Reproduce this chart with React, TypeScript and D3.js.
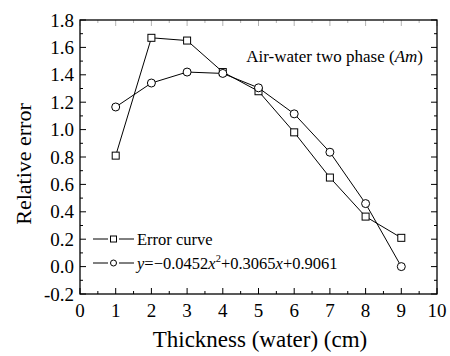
import { useEffect, useRef } from "react";
import * as d3 from "d3";

const thickness = [1, 2, 3, 4, 5, 6, 7, 8, 9];
const errorCurve = [0.81, 1.67, 1.65, 1.42, 1.28, 0.98, 0.65, 0.365, 0.21];
const fitCurve = [1.165, 1.34, 1.42, 1.41, 1.305, 1.115, 0.835, 0.46, 0.0];
const xTicks = [0, 1, 2, 3, 4, 5, 6, 7, 8, 9, 10];
const yTicks = [-0.2, 0.0, 0.2, 0.4, 0.6, 0.8, 1.0, 1.2, 1.4, 1.6, 1.8];

const ANCHO = 450;
const ALTO = 356;
const FUENTE = "'Liberation Serif', Tinos, 'Times New Roman', 'Noto Serif', 'DejaVu Serif', serif";

export default function App() {
  const svgRef = useRef<SVGSVGElement>(null);

  useEffect(() => {
    if (!svgRef.current) return;
    const svg = d3.select(svgRef.current);
    svg.selectAll("*").remove();

    const izq = 80, der = 437, arriba = 20, abajo = 294;
    const x = d3.scaleLinear().domain([0, 10]).range([izq, der]);
    const y = d3.scaleLinear().domain([-0.2, 1.8]).range([abajo, arriba]);

    const g = svg.append("g").attr("font-family", FUENTE).attr("fill", "#000");

    // Ticks hacia dentro, en los cuatro lados
    const xMenores = d3.range(0, 10.01, 0.5);
    const yMenores = d3.range(-0.2, 1.801, 0.1);
    const esMayorX = (v: number) => Math.abs(v - Math.round(v)) < 1e-6;
    const esMayorY = (v: number) => Math.abs(v * 5 - Math.round(v * 5)) < 1e-6;

    xMenores.forEach((v) => {
      const largo = esMayorX(v) ? 6 : 3;
      g.append("line").attr("x1", x(v)).attr("x2", x(v)).attr("y1", abajo).attr("y2", abajo - largo).attr("stroke", "#000");
      g.append("line").attr("x1", x(v)).attr("x2", x(v)).attr("y1", arriba).attr("y2", arriba + largo).attr("stroke", "#000").attr("stroke-opacity", 0.3);
    });
    yMenores.forEach((v) => {
      const largo = esMayorY(v) ? 6 : 3;
      g.append("line").attr("x1", izq).attr("x2", izq + largo).attr("y1", y(v)).attr("y2", y(v)).attr("stroke", "#000");
      g.append("line").attr("x1", der).attr("x2", der - largo).attr("y1", y(v)).attr("y2", y(v)).attr("stroke", "#000");
    });

    g.append("rect")
      .attr("x", izq)
      .attr("y", arriba)
      .attr("width", der - izq)
      .attr("height", abajo - arriba)
      .attr("fill", "none")
      .attr("stroke", "#000")
      .attr("stroke-width", 1.3);

    g.selectAll("text.xt")
      .data(xTicks)
      .enter()
      .append("text")
      .attr("class", "xt")
      .attr("x", (d) => x(d))
      .attr("y", 317)
      .attr("text-anchor", "middle")
      .attr("font-size", 19)
      .text((d) => String(d));

    g.selectAll("text.yt")
      .data(yTicks)
      .enter()
      .append("text")
      .attr("class", "yt")
      .attr("x", 74)
      .attr("y", (d) => y(d))
      .attr("dy", "0.35em")
      .attr("text-anchor", "end")
      .attr("font-size", 19)
      .text((d) => (d < 0 ? "-" + Math.abs(d).toFixed(1) : d.toFixed(1)));

    g.append("text")
      .attr("x", 260)
      .attr("y", 347)
      .attr("text-anchor", "middle")
      .attr("font-size", 23)
      .text("Thickness (water) (cm)");

    g.append("text")
      .attr("transform", `translate(31,164) rotate(-90)`)
      .attr("text-anchor", "middle")
      .attr("font-size", 22)
      .text("Relative error");

    const linea = d3
      .line<number>()
      .x((_, i) => x(thickness[i]))
      .y((d) => y(d));

    g.append("path").datum(errorCurve).attr("d", linea).attr("fill", "none").attr("stroke", "#000").attr("stroke-width", 1);
    g.append("path").datum(fitCurve).attr("d", linea).attr("fill", "none").attr("stroke", "#000").attr("stroke-width", 1);

    g.selectAll("rect.cuadro")
      .data(errorCurve)
      .enter()
      .append("rect")
      .attr("class", "cuadro")
      .attr("x", (d, i) => x(thickness[i]) - 3.5)
      .attr("y", (d) => y(d) - 3.5)
      .attr("width", 7)
      .attr("height", 7)
      .attr("fill", "#fff")
      .attr("stroke", "#000");

    g.selectAll("circle.punto")
      .data(fitCurve)
      .enter()
      .append("circle")
      .attr("class", "punto")
      .attr("cx", (d, i) => x(thickness[i]))
      .attr("cy", (d) => y(d))
      .attr("r", 4)
      .attr("fill", "#fff")
      .attr("stroke", "#000");

    // Anotación
    const nota = g.append("text").attr("x", 423).attr("y", 62).attr("text-anchor", "end").attr("font-size", 17);
    nota.append("tspan").text("Air-water two phase (");
    nota.append("tspan").attr("font-style", "italic").text("Am");
    nota.append("tspan").text(")");

    // Leyenda
    const ly1 = 239, ly2 = 263;
    [ly1, ly2].forEach((ly) => {
      g.append("line").attr("x1", 93).attr("x2", 108).attr("y1", ly).attr("y2", ly).attr("stroke", "#000");
      g.append("line").attr("x1", 119).attr("x2", 134).attr("y1", ly).attr("y2", ly).attr("stroke", "#000");
    });
    g.append("rect").attr("x", 110.5).attr("y", ly1 - 3).attr("width", 6).attr("height", 6).attr("fill", "#fff").attr("stroke", "#000");
    g.append("circle").attr("cx", 113.5).attr("cy", ly2).attr("r", 3).attr("fill", "#fff").attr("stroke", "#000");

    g.append("text").attr("x", 137).attr("y", ly1 + 6).attr("font-size", 16.5).text("Error curve");
    const eq = g.append("text").attr("x", 137).attr("y", ly2 + 6).attr("font-size", 16.5);
    eq.append("tspan").attr("font-style", "italic").text("y");
    eq.append("tspan").text("=\u22120.0452");
    eq.append("tspan").attr("font-style", "italic").text("x");
    eq.append("tspan").attr("font-size", 10.5).attr("dy", -7).text("2");
    eq.append("tspan").attr("dy", 7).text("+0.3065");
    eq.append("tspan").attr("font-style", "italic").text("x");
    eq.append("tspan").text("+0.9061");
  }, []);

  return (
    <svg
      ref={svgRef}
      width={ANCHO}
      height={ALTO}
      viewBox={`0 0 ${ANCHO} ${ALTO}`}
      style={{ position: "absolute", left: 0, top: 0, background: "#fff" }}
    />
  );
}
